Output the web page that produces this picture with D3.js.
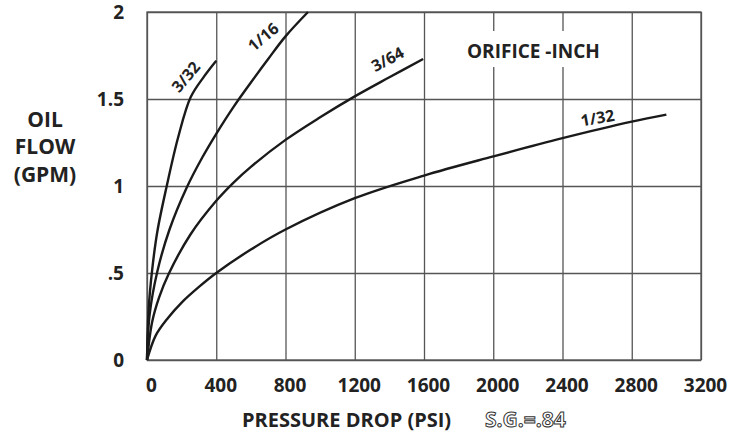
<!DOCTYPE html>
<html>
<head>
<meta charset="utf-8">
<script src="https://cdn.jsdelivr.net/npm/d3@7"></script>
<style>
  body { margin: 0; background: #fff; }
  svg { display: block; font-family: "Open Sans", sans-serif; }
</style>
</head>
<body>
<div id="chart"></div>
<script>
// ---- data ----
const pressureTicks = [0, 400, 800, 1200, 1600, 2000, 2400, 2800, 3200];
const flowTicks = [0, 0.5, 1, 1.5, 2];
const flowTickLabels = ["0", ".5", "1", "1.5", "2"];

// psi, gpm for each orifice size
const orifice332 = [[0, 0], [10, 0.3], [30, 0.52], [60, 0.74], [114, 1.0], [180, 1.28], [252, 1.51], [330, 1.63], [400, 1.72]];
const orifice116 = [[0, 0], [15, 0.26], [60, 0.51], [130, 0.75], [229, 0.99], [320, 1.165], [400, 1.3], [500, 1.455], [600, 1.595], [700, 1.73], [800, 1.86], [930, 2.0]];
const orifice364 = [[0, 0], [30, 0.22], [70, 0.36], [123, 0.49], [250, 0.72], [400, 0.915], [500, 1.02], [600, 1.11], [800, 1.265], [1000, 1.395], [1200, 1.515], [1400, 1.625], [1595, 1.73]];
const orifice132 = [[0, 0], [50, 0.14], [120, 0.24], [200, 0.33], [300, 0.42], [400, 0.5], [600, 0.635], [800, 0.75], [1200, 0.93], [1600, 1.06], [2000, 1.17], [2400, 1.275], [2800, 1.37], [3000, 1.41]];

const curveNames = ["3/32", "1/16", "3/64", "1/32"];
const curveData = [orifice332, orifice116, orifice364, orifice132];

const W = 745, H = 436;
const plotLeft = 147, plotRight = 701, plotTop = 12, plotBottom = 360;

const svg = d3.select("#chart").append("svg")
    .attr("width", W)
    .attr("height", H);

const x = d3.scaleLinear().domain([0, 3200]).range([plotLeft, plotRight]);
const y = d3.scaleLinear().domain([0, 2]).range([plotBottom, plotTop]);

// =====================
// grid (axes with long ticks)
// =====================
const gridColor = "#555";

const xAxis = svg.append("g")
    .attr("transform", `translate(0, ${plotBottom})`)
    .call(d3.axisBottom(x)
        .tickValues(pressureTicks)
        .tickSize(-(plotBottom - plotTop))
        .tickFormat(d => d));

xAxis.select(".domain").remove();
xAxis.selectAll("line").attr("stroke", gridColor).attr("stroke-width", 1.3);
xAxis.selectAll("text")
    .attr("y", 32)
    .attr("dy", 0)
    .attr("dx", 4)
    .attr("fill", "#222")
    .style("font-size", "19px")
    .style("font-weight", "700")
    .style("font-family", "'Open Sans', sans-serif");

const yAxis = svg.append("g")
    .attr("transform", `translate(${plotLeft}, 0)`)
    .call(d3.axisLeft(y)
        .tickValues(flowTicks)
        .tickSize(-(plotRight - plotLeft))
        .tickFormat((d, i) => flowTickLabels[i]));

yAxis.select(".domain").remove();
yAxis.selectAll("line").attr("stroke", gridColor).attr("stroke-width", 1.3);
yAxis.selectAll("text")
    .attr("x", -23)
    .attr("dy", "0.35em")
    .attr("fill", "#222")
    .style("font-size", "19px")
    .style("font-weight", "700")
    .style("font-family", "'Open Sans', sans-serif");

// frame
svg.append("rect")
    .attr("x", plotLeft)
    .attr("y", plotTop)
    .attr("width", plotRight - plotLeft)
    .attr("height", plotBottom - plotTop)
    .attr("fill", "none")
    .attr("stroke", gridColor)
    .attr("stroke-width", 1.3);

// =====================
// legend title (white box hides the grid)
// =====================
svg.append("rect")
    .attr("x", 460)
    .attr("y", 31)
    .attr("width", 143)
    .attr("height", 36)
    .attr("fill", "#fff");

svg.append("text")
    .attr("x", 467)
    .attr("y", 58)
    .attr("fill", "#222")
    .style("font-size", "19px")
    .style("font-weight", "700")
    .text("ORIFICE -INCH");

// =====================
// curves
// =====================
const line = d3.line()
    .x(d => x(d[0]))
    .y(d => y(d[1]))
    .curve(d3.curveCatmullRom.alpha(0.5));

svg.append("g")
    .selectAll("path")
    .data(curveData)
    .enter()
    .append("path")
    .attr("d", line)
    .attr("fill", "none")
    .attr("stroke", "#1a1a1a")
    .attr("stroke-width", 2.4);

// curve labels
const labelPos = [[185.7, 76.7, -50], [263, 36.7, -40], [387.5, 59, -28], [597.5, 117.7, -10]];

svg.append("g")
    .selectAll("text")
    .data(curveNames)
    .enter()
    .append("text")
    .attr("transform", (d, i) => `translate(${labelPos[i][0]}, ${labelPos[i][1]}) rotate(${labelPos[i][2]})`)
    .attr("text-anchor", "middle")
    .attr("dominant-baseline", "central")
    .attr("fill", "#222")
    .style("font-size", "16px")
    .style("font-weight", "700")
    .text(d => d);

// =====================
// axis titles
// =====================
const yTitle = svg.append("text")
    .attr("text-anchor", "middle")
    .attr("fill", "#222")
    .style("font-size", "21px")
    .style("font-weight", "700");

[["OIL", 127], ["FLOW", 154], ["(GPM)", 182]].forEach(([t, by]) => {
    yTitle.append("tspan").attr("x", 45).attr("y", by).text(t);
});

svg.append("text")
    .attr("x", 242)
    .attr("y", 427)
    .attr("fill", "#222")
    .style("font-size", "20px")
    .style("font-weight", "700")
    .text("PRESSURE DROP (PSI)");

svg.append("text")
    .attr("x", 485)
    .attr("y", 427)
    .attr("fill", "#fff")
    .attr("stroke", "#333")
    .attr("stroke-width", 1)
    .style("font-size", "21px")
    .style("font-weight", "700")
    .text("S.G.=.84");
</script>
</body>
</html>
